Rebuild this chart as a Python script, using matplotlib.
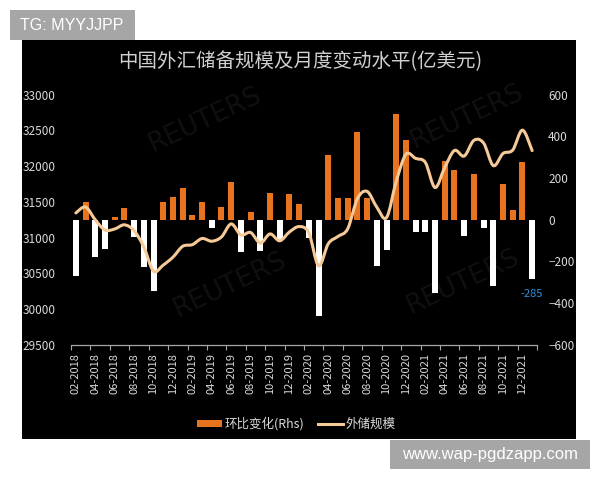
import matplotlib
matplotlib.use("Agg")
import matplotlib.pyplot as plt
from matplotlib.patches import Rectangle, Patch, PathPatch
from matplotlib.lines import Line2D
from matplotlib.path import Path

plt.rcParams["font.family"] = ["Noto Sans CJK SC", "DejaVu Sans"]

# Monthly, Feb 2018 .. Jan 2022 (亿美元)
changes = [
    -270, 83, -180, -142, 15, 58, -82, -227, -339, 86, 110,
    152, 23, 86, -38, 61, 182, -155, 35, -148, 128, -96, 123,
    76, -88, -461, 309, 102, 106, 421, 102, -220, -146, 505, 380,
    -58, -57, -350, 282, 236, -78, 219, -38, -315, 170, 48, 278,
    -285,
]
reserves = [
    31345, 31428, 31249, 31106, 31121, 31179, 31097, 30870, 30531, 30617, 30727,
    30879, 30902, 30988, 30950, 31010, 31192, 31037, 31072, 30924, 31052, 30956, 31079,
    31155, 31067, 30606, 30915, 31017, 31123, 31544, 31646, 31426, 31280, 31785, 32165,
    32107, 32050, 31700, 31982, 32218, 32140, 32359, 32321, 32006, 32176, 32224, 32502,
    32216,
]
tick_labels = [
    "02-2018", "04-2018", "06-2018", "08-2018", "10-2018", "12-2018",
    "02-2019", "04-2019", "06-2019", "08-2019", "10-2019", "12-2019",
    "02-2020", "04-2020", "06-2020", "08-2020", "10-2020", "12-2020",
    "02-2021", "04-2021", "06-2021", "08-2021", "10-2021", "12-2021",
]
left_ticks = [29500, 30000, 30500, 31000, 31500, 32000, 32500, 33000]
right_ticks = [-600, -400, -200, 0, 200, 400, 600]

ORANGE = "#e8731f"
LINE = "#f6c998"
TXT = "#d9d9d9"
W, H = 600, 480


def fig_box(x0, y0, x1, y1):
    """pixel box (top-left origin) -> figure fraction rect"""
    return (x0 / W, 1 - y1 / H), (x1 - x0) / W, (y1 - y0) / H


def smooth_path(xs, ys):
    """Catmull-Rom style bezier through the points (like Excel's smoothed line)."""
    pts = list(zip(xs, ys))
    n = len(pts)
    verts = [pts[0]]
    codes = [Path.MOVETO]
    for i in range(n - 1):
        p0 = pts[max(i - 1, 0)]
        p1 = pts[i]
        p2 = pts[i + 1]
        p3 = pts[min(i + 2, n - 1)]
        c1 = (p1[0] + (p2[0] - p0[0]) / 6, p1[1] + (p2[1] - p0[1]) / 6)
        c2 = (p2[0] - (p3[0] - p1[0]) / 6, p2[1] - (p3[1] - p1[1]) / 6)
        verts += [c1, c2, p2]
        codes += [Path.CURVE4] * 3
    return Path(verts, codes)


fig = plt.figure(figsize=(6, 4.8), dpi=100)
fig.patch.set_facecolor("white")

xy, w, h = fig_box(22, 40, 576, 439)
fig.add_artist(Rectangle(xy, w, h, transform=fig.transFigure,
                         facecolor="black", edgecolor="none", zorder=-10))

# faint agency watermarks
for px, py in [(205, 120), (467, 117), (230, 285), (463, 282)]:
    fig.text(px / W, 1 - py / H, "REUTERS", ha="center", va="center",
             rotation=25, fontsize=19, color="#101010", zorder=-5,
             family="DejaVu Sans")

ax = fig.add_axes([71 / W, 1 - 345 / H, 466 / W, 250.5 / H])
ax2 = ax.twinx()
for a in (ax, ax2):
    a.patch.set_visible(False)

# bars: monthly change, right-hand scale
x = list(range(len(changes)))
colors = [ORANGE if v > 0 else "white" for v in changes]
ax.bar(x, changes, width=0.62, color=colors, zorder=2)
ax.set_xlim(-0.5, len(changes) - 0.5)
ax.set_ylim(-600, 600)
ax.yaxis.tick_right()
ax.set_yticks(right_ticks)
ax.tick_params(axis="y", length=0, pad=8, labelsize=8.5, labelcolor=TXT)

# category axis: tick marks between categories, labels every 2 months
ax.set_xticks([i - 0.5 for i in range(0, len(changes) + 1, 2)])
ax.set_xticklabels([])
ax.tick_params(axis="x", which="major", length=3.5, width=0.8, color="#a6a6a6",
               direction="out")
ax.set_xticks(list(range(0, len(tick_labels) * 2, 2)), minor=True)
ax.set_xticklabels(tick_labels, minor=True, rotation=90)
ax.tick_params(axis="x", which="minor", length=0, pad=6, labelsize=8, labelcolor=TXT)

for s in ["top", "left", "right"]:
    ax.spines[s].set_visible(False)
ax.spines["bottom"].set_color("#a6a6a6")
ax.spines["bottom"].set_linewidth(0.9)

last = len(changes) - 1
ax.annotate(f"{changes[last]}", xy=(last, changes[last]), xytext=(0, -7),
            textcoords="offset points", ha="center", va="top",
            color="#2f8ee0", fontsize=8)

# line: reserve level, left-hand scale
ax2.set_ylim(29500, 33000)
ax2.yaxis.tick_left()
ax2.set_yticks(left_ticks)
ax2.tick_params(axis="y", length=0, pad=11, labelsize=8.5, labelcolor=TXT)
for s in ax2.spines.values():
    s.set_visible(False)
ax2.add_patch(PathPatch(smooth_path(x, reserves), fill=False, edgecolor=LINE,
                        linewidth=2.2, capstyle="round", joinstyle="round", zorder=3))

fig.text(0.5, 1 - 62 / H, "中国外汇储备规模及月度变动水平(亿美元)", ha="center",
         va="center", fontsize=14, color="#d0d0d0")

handles = [Patch(facecolor=ORANGE, edgecolor="none"),
           Line2D([], [], color=LINE, linewidth=2.2)]
fig.legend(handles, ["环比变化(Rhs)", "外储规模"], loc="center",
           bbox_to_anchor=(296 / W, 1 - 424 / H), ncol=2, frameon=False,
           fontsize=9, labelcolor=TXT, handlelength=2.0, handleheight=0.5,
           handletextpad=0.2, columnspacing=1.1)

# grey overlay tags from the screenshot
xy, w, h = fig_box(10, 10, 135, 40)
fig.add_artist(Rectangle(xy, w, h, transform=fig.transFigure,
                         facecolor="#a6a6a6", edgecolor="none", zorder=5))
fig.text(72 / W, 1 - 25 / H, "TG: MYYJJPP", ha="center", va="center",
         fontsize=11.5, color="white", family="Liberation Sans", zorder=6)
xy, w, h = fig_box(390, 440, 590, 469)
fig.add_artist(Rectangle(xy, w, h, transform=fig.transFigure,
                         facecolor="#a6a6a6", edgecolor="none", zorder=5))
fig.text(490 / W, 1 - 454.5 / H, "www.wap-pgdzapp.com", ha="center", va="center",
         fontsize=12, color="white", family="Liberation Sans", zorder=6)

fig.savefig("out.png", dpi=100, facecolor=fig.get_facecolor())
